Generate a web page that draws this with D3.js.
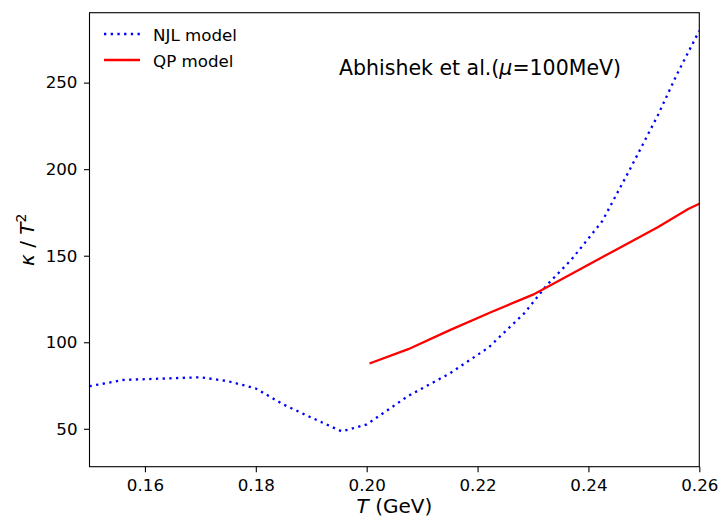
<!DOCTYPE html>
<html>
<head>
<meta charset="utf-8">
<title>kappa / T^2</title>
<script src="https://cdn.jsdelivr.net/npm/d3@7"></script>
<style>
body { margin: 0; background: #fff; }
text { font-family: "DejaVu Sans", sans-serif; }
</style>
</head>
<body>
<script>

// dati
var njlT = [0.150, 0.156, 0.163, 0.170, 0.175, 0.180, 0.185, 0.190, 0.1955, 0.200, 0.2075, 0.215, 0.222, 0.2285, 0.2325, 0.237, 0.2425, 0.2475, 0.2525, 0.256, 0.260];
var njlK = [74.6, 78.2, 79.0, 79.8, 77.5, 73.3, 64.0, 56.5, 48.5, 52.5, 69.0, 82.0, 97.0, 117.0, 133.0, 148.0, 170.0, 200.0, 231.0, 255.0, 280.0];
var qpT = [0.2005, 0.2075, 0.215, 0.2225, 0.230, 0.2375, 0.245, 0.2525, 0.258, 0.260];
var qpK = [87.7, 96.0, 107.0, 117.5, 127.5, 140.5, 153.5, 166.5, 177.0, 180.0];
var xTicks = [0.16, 0.18, 0.20, 0.22, 0.24, 0.26];
var yTicks = [50, 100, 150, 200, 250];

var width = 718, height = 519;
var margin = {left: 89.5, right: 18.7, top: 12.7, bottom: 52.3};

var svg = d3.select("body").append("svg")
	.attr("width", width)
	.attr("height", height);

var x = d3.scaleLinear().domain([0.15, 0.26]).range([margin.left, width - margin.right]);
var y = d3.scaleLinear().domain([28.1, 290.4]).range([height - margin.bottom, margin.top]);

var line = d3.line()
	.x(function(d){ return x(d[0]); })
	.y(function(d){ return y(d[1]); });

svg.append("defs").append("clipPath").attr("id", "clip")
	.append("rect")
	.attr("x", margin.left).attr("y", margin.top)
	.attr("width", width - margin.left - margin.right)
	.attr("height", height - margin.top - margin.bottom);

var plot = svg.append("g").attr("clip-path", "url(#clip)");

// NJL punteggiata
plot.append("path")
	.datum(d3.zip(njlT, njlK))
	.attr("d", line)
	.attr("fill", "none")
	.attr("stroke", "#0000ff")
	.attr("stroke-width", 2.3)
	.attr("stroke-dasharray", "2.3,4.4");

// QP continua
plot.append("path")
	.datum(d3.zip(qpT, qpK))
	.attr("d", line)
	.attr("fill", "none")
	.attr("stroke", "#ff0000")
	.attr("stroke-width", 2.3);

// assi
var xAxis = svg.append("g")
	.attr("transform", "translate(0," + (height - margin.bottom) + ")")
	.call(d3.axisBottom(x).tickValues(xTicks).tickFormat(d3.format(".2f")).tickSizeInner(5.5).tickSizeOuter(0).tickPadding(7));
var yAxis = svg.append("g")
	.attr("transform", "translate(" + margin.left + ",0)")
	.call(d3.axisLeft(y).tickValues(yTicks).tickSizeInner(5.5).tickSizeOuter(0).tickPadding(6.5));

[xAxis, yAxis].forEach(function(a){
	a.select(".domain").remove();
	a.selectAll("line").attr("stroke", "#000").attr("stroke-width", 1.1);
	a.selectAll("text").attr("font-size", 16.7).attr("fill", "#000").attr("font-family", "DejaVu Sans");
});

// cornice
svg.append("rect")
	.attr("x", margin.left).attr("y", margin.top)
	.attr("width", width - margin.left - margin.right)
	.attr("height", height - margin.top - margin.bottom)
	.attr("fill", "none")
	.attr("stroke", "#000")
	.attr("stroke-width", 1.1);

// etichette assi
var xl = svg.append("text")
	.attr("x", (margin.left + width - margin.right) / 2)
	.attr("y", 513)
	.attr("text-anchor", "middle")
	.attr("font-size", 20);
xl.append("tspan").attr("font-style", "italic").text("T");
xl.append("tspan").text(" (GeV)");

var yl = svg.append("text")
	.attr("transform", "translate(34," + ((margin.top + height - margin.bottom) / 2) + ") rotate(-90)")
	.attr("text-anchor", "middle")
	.attr("font-size", 20);
yl.append("tspan").attr("font-style", "italic").text("κ");
yl.append("tspan").text(" / ");
yl.append("tspan").attr("font-style", "italic").text("T");
yl.append("tspan").attr("font-size", 14).attr("dy", -8).text("2");

// testo
var ann = svg.append("text")
	.attr("x", 339)
	.attr("y", 75)
	.attr("font-size", 20.5);
ann.append("tspan").text("Abhishek et al.(");
ann.append("tspan").attr("font-style", "italic").text("μ");
ann.append("tspan").text("=100MeV)");

// legenda
var legend = [
	{name: "NJL model", color: "#0000ff", dash: "2.3,4.4", y: 34},
	{name: "QP model", color: "#ff0000", dash: null, y: 60}
];
var lg = svg.append("g");
legend.forEach(function(l){
	lg.append("line")
		.attr("x1", 104).attr("x2", 140)
		.attr("y1", l.y).attr("y2", l.y)
		.attr("stroke", l.color)
		.attr("stroke-width", 2.3)
		.attr("stroke-dasharray", l.dash);
	lg.append("text")
		.attr("x", 153).attr("y", l.y + 6.5)
		.attr("font-size", 16.7)
		.text(l.name);
});

</script>
</body>
</html>
